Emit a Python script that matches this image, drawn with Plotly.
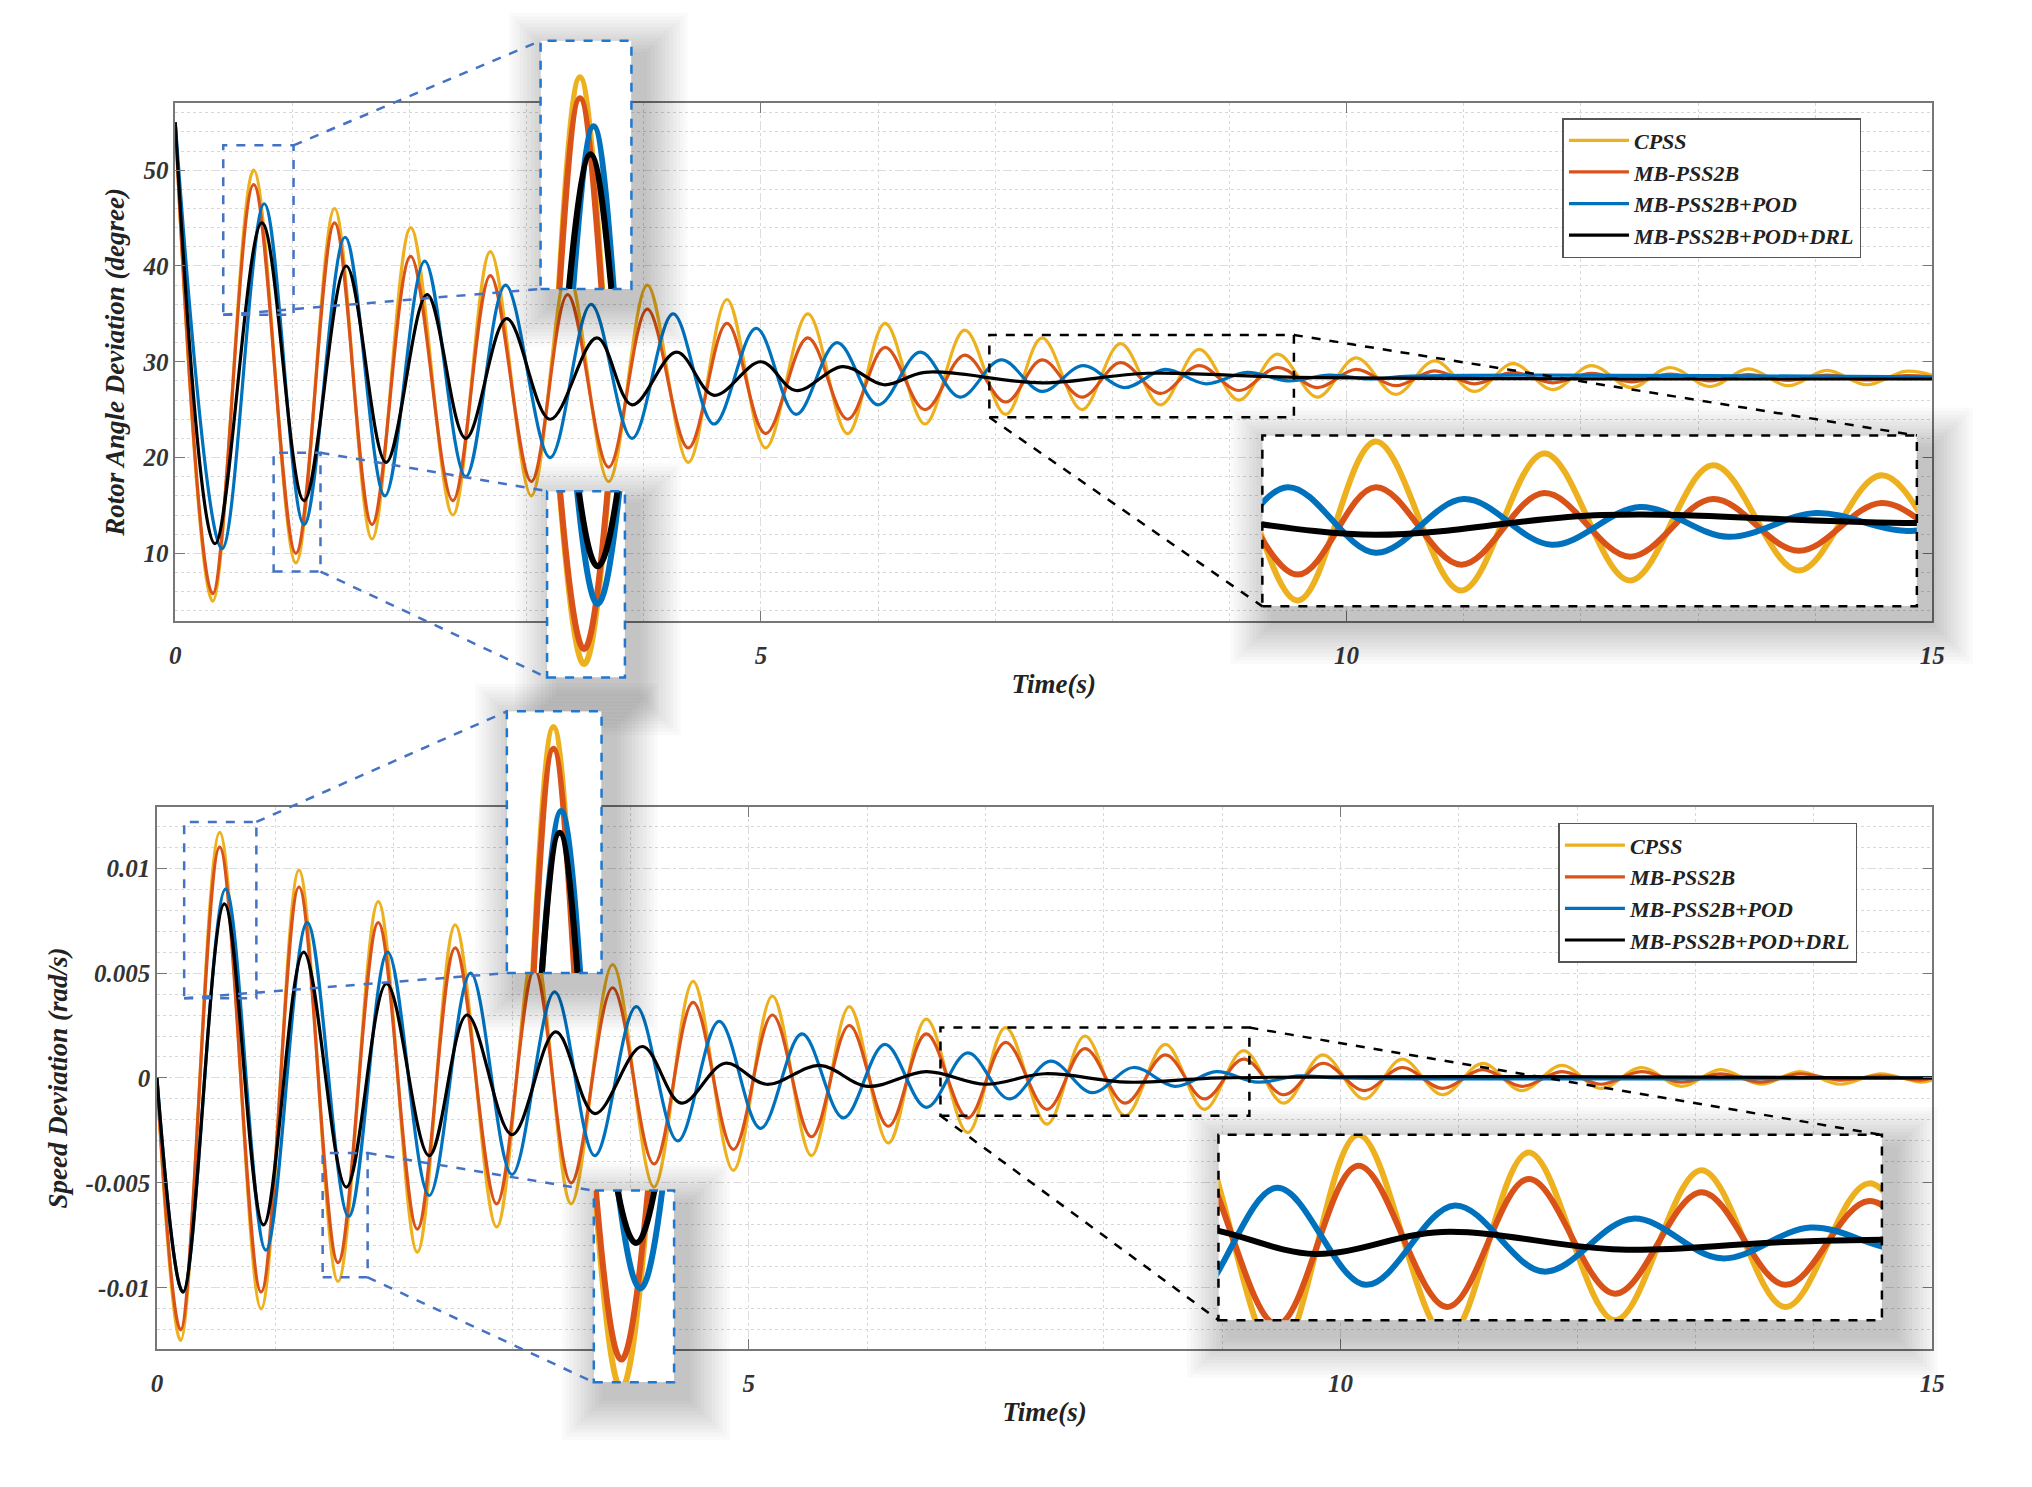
import plotly.graph_objects as go

# ---- rotor angle (top) : extrema ----
t_ang = [0, .32, .67, 1.03, 1.36, 1.68, 2.01, 2.37, 2.69, 3.04, 3.35, 3.70, 4.03, 4.38, 4.71, 5.04,
         5.40, 5.74, 6.06, 6.40, 6.74, 7.09, 7.40, 7.74, 8.07, 8.41, 8.74, 9.08, 9.41, 9.75, 10.08,
         10.42, 10.75, 11.09, 11.42, 11.76, 12.09, 12.43, 12.76, 13.10, 13.43, 13.77, 14.10, 14.44, 14.77, 15.0]
ang_cpss = [55, 5, 50, 9, 46, 11.5, 44, 14, 41.5, 16, 39.5, 17.5, 38, 19.5, 36.5, 21, 35, 22.5, 34, 23.5,
            33.3, 24.5, 32.5, 25.0, 31.9, 25.5, 31.3, 26.0, 30.8, 26.3, 30.4, 26.6, 30.1, 26.9, 29.8, 27.1,
            29.6, 27.3, 29.4, 27.4, 29.25, 27.5, 29.1, 27.6, 29.0, 28.6]
ang_mb = [55, 5.8, 48.5, 10, 44.5, 13, 41, 15.5, 39, 17.5, 37, 19, 35.5, 21, 34, 22.5, 32.5, 24, 31.5, 25,
          30.7, 25.8, 30.2, 26.3, 29.9, 26.7, 29.6, 27.0, 29.4, 27.3, 29.2, 27.5, 29.05, 27.7, 28.9, 27.8,
          28.8, 27.9, 28.7, 28.0, 28.65, 28.05, 28.6, 28.1, 28.55, 28.4]
t_ang_pod = [0, .40, .76, 1.10, 1.45, 1.79, 2.13, 2.48, 2.82, 3.20, 3.55, 3.90, 4.25, 4.60, 4.96, 5.30,
             5.65, 6.00, 6.36, 6.70, 7.05, 7.40, 7.75, 8.10, 8.45, 8.80, 9.15, 9.50, 9.85, 10.2, 10.55, 15.0]
ang_pod = [55, 10.5, 46.5, 13, 43, 16, 40.5, 18, 38, 20, 36, 22, 35, 23.5, 33.5, 24.5, 32, 25.5, 31, 26.3,
           30.2, 26.9, 29.6, 27.3, 29.2, 27.7, 28.9, 28.0, 28.6, 28.2, 28.5, 28.4]
t_ang_drl = [0, .34, .74, 1.10, 1.46, 1.80, 2.15, 2.48, 2.83, 3.20, 3.60, 3.90, 4.28, 4.60, 5.00, 5.30,
             5.70, 6.05, 6.40, 7.40, 8.30, 9.50, 15.0]
ang_drl = [55, 11, 44.5, 15.5, 40, 19.5, 37, 22, 34.5, 24, 32.5, 25.5, 31, 26.5, 30.0, 27.0, 29.5, 27.6,
           28.9, 27.8, 28.8, 28.4, 28.2]

# ---- speed deviation (bottom) ----
t_spd = [0, .20, .53, .88, 1.20, 1.53, 1.87, 2.20, 2.52, 2.87, 3.19, 3.50, 3.85, 4.20, 4.53, 4.87, 5.20,
         5.53, 5.85, 6.18, 6.50, 6.85, 7.17, 7.52, 7.84, 8.18, 8.52, 8.85, 9.18, 9.52, 9.85, 10.20, 10.52,
         10.86, 11.20, 11.53, 11.87, 12.20, 12.54, 12.88, 13.21, 13.55, 13.88, 14.22, 14.56, 14.90, 15.0]
spd_cpss = [0, -.0125, .0117, -.011, .0099, -.0097, .0084, -.0083, .0073, -.0071, .0062, -.006, .0054, -.0052,
            .0046, -.0044, .0039, -.0037, .0034, -.0031, .0028, -.0026, .0024, -.0022, .002, -.0018, .0016,
            -.0015, .0013, -.0012, .0011, -.001, .0009, -.0008, .0007, -.0006, .0006, -.0005, .0005, -.0004,
            .0004, -.0003, .0003, -.0003, .0002, -.0002, -.0001]
spd_mb = [0, -.012, .011, -.0102, .0091, -.0088, .0074, -.0072, .0062, -.006, .0052, -.005, .0043, -.0041,
          .0036, -.0034, .003, -.0028, .0025, -.0023, .0021, -.0019, .0017, -.0015, .0014, -.0012, .0011,
          -.001, .0009, -.0008, .0007, -.0006, .0005, -.0005, .0004, -.0004, .0003, -.0003, .0003, -.0002,
          .0002, -.0002, .0002, -.0001, .0001, -.0001, 0]
t_spd_pod = [0, .22, .58, .92, 1.27, 1.62, 1.95, 2.30, 2.65, 3.00, 3.36, 3.70, 4.05, 4.40, 4.75, 5.10, 5.45,
             5.80, 6.15, 6.50, 6.85, 7.20, 7.55, 7.90, 8.25, 8.60, 8.95, 9.30, 9.65, 10.0, 15.0]
spd_pod = [0, -.0102, .009, -.0082, .0074, -.0066, .006, -.0056, .005, -.0046, .0041, -.0037, .0034, -.003,
           .0027, -.0024, .0021, -.0019, .0016, -.0014, .0012, -.001, .0008, -.0007, .0005, -.0004, .0003,
           -.0002, .0001, 0, 0]
t_spd_drl = [0, .22, .57, .90, 1.24, 1.60, 1.94, 2.30, 2.62, 3.00, 3.37, 3.70, 4.10, 4.43, 4.80, 5.15, 5.60,
             6.00, 6.50, 7.00, 7.50, 8.20, 9.00, 15.0]
spd_drl = [0, -.0102, .0083, -.007, .006, -.0052, .0045, -.0037, .003, -.0027, .0022, -.0017, .0015, -.0012,
           .0007, -.0003, .0006, -.0004, .0003, -.0003, .0002, -.0002, 0, 0]

names = ["CPSS", "MB-PSS2B", "MB-PSS2B+POD", "MB-PSS2B+POD+DRL"]
colors = ["#EDB120", "#D95319", "#0072BD", "#000000"]

FONT = "Liberation Serif"
fig = go.Figure()

main = {
    "top": dict(x="x", y="y", xd=[0.0823, 0.947], yd=[0.588, 0.936], yr=[2.97, 57.0]),
    "bot": dict(x="x2", y="y2", xd=[0.0733, 0.947], yd=[0.0984, 0.4625], yr=[-0.0129, 0.0129]),
}
insets = [
    dict(p="top", xd=[0.2621, 0.3068], yd=[0.811, 0.978], xr=[0.41, 1.01], yr=[34.9, 52.6],
         col="#1F77D0", lc="#4472C4", links=[((1, 1), (0, 1)), ((0, 0), (0, 0))]),
    dict(p="top", xd=[0.2653, 0.3036], yd=[0.5497, 0.6751], xr=[0.84, 1.24], yr=[8.1, 20.5],
         col="#1F77D0", lc="#4472C4", links=[((1, 1), (0, 1)), ((1, 0), (0, 0))]),
    dict(p="top", xd=[0.6173, 0.9394], yd=[0.5976, 0.7125], xr=[6.95, 9.55], yr=[24.2, 32.8],
         col="black", lc="black", links=[((1, 1), (1, 1)), ((0, 0), (0, 0))]),
    dict(p="bot", xd=[0.2455, 0.2921], yd=[0.351, 0.527], xr=[0.23, 0.84], yr=[0.0038, 0.0122],
         col="#1F77D0", lc="#4472C4", links=[((1, 1), (0, 1)), ((0, 0), (0, 0))]),
    dict(p="bot", xd=[0.2883, 0.3278], yd=[0.0758, 0.2047], xr=[1.40, 1.78], yr=[-0.0095, -0.00358],
         col="#1F77D0", lc="#4472C4", links=[((1, 1), (0, 1)), ((1, 0), (0, 0))]),
    dict(p="bot", xd=[0.5957, 0.9222], yd=[0.1176, 0.2422], xr=[6.62, 9.23], yr=[-0.0018, 0.0024],
         col="black", lc="black", links=[((1, 1), (1, 1)), ((0, 0), (0, 0))]),
]
ns = len(insets)
for i, ins in enumerate(insets):
    ins["s"] = 3 + i          # shadow axis id
    ins["n"] = 3 + ns + i     # inset axis id

series = {
    "top": [(t_ang, ang_cpss), (t_ang, ang_mb), (t_ang_pod, ang_pod), (t_ang_drl, ang_drl)],
    "bot": [(t_spd, spd_cpss), (t_spd, spd_mb), (t_spd_pod, spd_pod), (t_spd_drl, spd_drl)],
}

for key, leg in (("top", "legend"), ("bot", "legend2")):
    m = main[key]
    for (t, v), nm, c in zip(series[key], names, colors):
        fig.add_trace(go.Scatter(x=t, y=v, name=nm, mode="lines", line=dict(color=c, width=3.2, shape="spline"),
                                 xaxis=m["x"], yaxis=m["y"], legend=leg))

# soft drop shadows, drawn in paper-coordinate overlay axes
PAD = 0.03
shadow_dom = {}
for ins in insets:
    xa, ya = f"x{ins['s']}", f"y{ins['s']}"
    sx = [max(0, ins["xd"][0] - PAD), min(1, ins["xd"][1] + PAD)]
    sy = [max(0, ins["yd"][0] - PAD * 1.4), min(1, ins["yd"][1] + PAD)]
    shadow_dom[ins["s"]] = (sx, sy)
    dx, dy = 0.006, -0.01
    for k in range(12):
        gx, gy = 0.0018 * (12 - k), 0.0024 * (12 - k)
        x0, x1 = ins["xd"][0] + dx - gx, ins["xd"][1] + dx + gx
        y0, y1 = ins["yd"][0] + dy - gy, ins["yd"][1] + dy + gy
        fig.add_trace(go.Scatter(x=[x0, x1, x1, x0, x0], y=[y0, y0, y1, y1, y0], fill="toself",
                                 fillcolor="rgba(0,0,0,0.018)", mode="none", showlegend=False,
                                 hoverinfo="skip", xaxis=xa, yaxis=ya))

for ins in insets:
    xa, ya = f"x{ins['n']}", f"y{ins['n']}"
    x0, x1 = ins["xr"]
    y0, y1 = ins["yr"]
    fig.add_trace(go.Scatter(x=[x0, x1, x1, x0, x0], y=[y0, y0, y1, y1, y0], fill="toself", fillcolor="white",
                             mode="none", showlegend=False, hoverinfo="skip", xaxis=xa, yaxis=ya))
    for (t, v), c in zip(series[ins["p"]], colors):
        fig.add_trace(go.Scatter(x=t, y=v, mode="lines", showlegend=False, line=dict(color=c, width=6, shape="spline"),
                                 xaxis=xa, yaxis=ya))


def to_paper(m, xv, yv):
    px = m["xd"][0] + xv / 15 * (m["xd"][1] - m["xd"][0])
    py = m["yd"][0] + (yv - m["yr"][0]) / (m["yr"][1] - m["yr"][0]) * (m["yd"][1] - m["yd"][0])
    return px, py


shapes = []
for ins in insets:
    m = main[ins["p"]]
    shapes.append(dict(type="rect", xref=m["x"], yref=m["y"], x0=ins["xr"][0], x1=ins["xr"][1],
                       y0=ins["yr"][0], y1=ins["yr"][1], line=dict(color=ins["lc"], width=2.5, dash="dash")))
    shapes.append(dict(type="rect", xref="paper", yref="paper", x0=ins["xd"][0], x1=ins["xd"][1],
                       y0=ins["yd"][0], y1=ins["yd"][1], line=dict(color=ins["col"], width=2.5, dash="dash")))
    for (sx, sy), (ix, iy) in ins["links"]:
        px, py = to_paper(m, ins["xr"][sx], ins["yr"][sy])
        shapes.append(dict(type="line", xref="paper", yref="paper", x0=px, y0=py,
                           x1=ins["xd"][ix], y1=ins["yd"][iy], line=dict(color=ins["lc"], width=2.5, dash="dash")))

tick_font = dict(family=FONT, size=25, color="#333333", style="italic", weight="bold")
title_font = dict(family=FONT, size=27, color="#222222", style="italic", weight="bold")
leg_font = dict(family=FONT, size=22, color="#222222", style="italic", weight="bold")


def main_x(dom, anchor):
    return dict(domain=dom, anchor=anchor, range=[0, 15], tickvals=[0, 5, 10, 15], showline=True, mirror="ticks",
                linecolor="#777777", linewidth=1.5, ticks="inside", ticklen=10, tickcolor="#777777",
                tickfont=tick_font, ticklabelstandoff=12, showgrid=True, gridcolor="#dddddd", griddash="dash",
                minor=dict(dtick=1, showgrid=True, gridcolor="#d8d8d8", griddash="dot"),
                zeroline=False, automargin=False,
                title=dict(text="Time(s)", font=title_font, standoff=6))


def main_y(dom, anchor, rng, title):
    return dict(domain=dom, anchor=anchor, range=rng, showline=True, mirror="ticks",
                linecolor="#777777", linewidth=1.5, ticks="inside", ticklen=10, tickcolor="#777777",
                tickfont=tick_font, showgrid=True, gridcolor="#dddddd", griddash="dash",
                zeroline=False, automargin=False, title=dict(text=title, font=title_font, standoff=10))


layout = dict(
    width=2032, height=1487, margin=dict(l=0, r=0, t=0, b=0),
    paper_bgcolor="white", plot_bgcolor="rgba(0,0,0,0)", shapes=shapes,
    xaxis=main_x(main["top"]["xd"], "y"),
    yaxis=main_y(main["top"]["yd"], "x", main["top"]["yr"], "Rotor Angle Deviation (degree)"),
    xaxis2=main_x(main["bot"]["xd"], "y2"),
    yaxis2=main_y(main["bot"]["yd"], "x2", main["bot"]["yr"], "Speed Deviation (rad/s)"),
    legend=dict(x=0.765, y=0.926, xanchor="left", yanchor="top", bgcolor="white", bordercolor="#555555",
                borderwidth=1.5, font=leg_font, tracegroupgap=0, itemwidth=60),
    legend2=dict(x=0.763, y=0.452, xanchor="left", yanchor="top", bgcolor="white", bordercolor="#555555",
                 borderwidth=1.5, font=leg_font, tracegroupgap=0, itemwidth=60),
    showlegend=True,
)
layout["yaxis"].update(tickvals=[10, 20, 30, 40, 50],
                       minor=dict(dtick=2, showgrid=True, gridcolor="#d8d8d8", griddash="dot"))
layout["yaxis2"].update(tickvals=[-0.01, -0.005, 0, 0.005, 0.01],
                        ticktext=["-0.01", "-0.005", "0", "0.005", "0.01"],
                        minor=dict(dtick=0.001, showgrid=True, gridcolor="#d8d8d8", griddash="dot"))

for ins in insets:
    s, n = ins["s"], ins["n"]
    sx, sy = shadow_dom[s]
    layout[f"xaxis{s}"] = dict(domain=sx, anchor=f"y{s}", range=sx, visible=False, automargin=False)
    layout[f"yaxis{s}"] = dict(domain=sy, anchor=f"x{s}", range=sy, visible=False, automargin=False)
    layout[f"xaxis{n}"] = dict(domain=ins["xd"], anchor=f"y{n}", range=ins["xr"], showticklabels=False,
                               ticks="", showgrid=False, zeroline=False, automargin=False)
    layout[f"yaxis{n}"] = dict(domain=ins["yd"], anchor=f"x{n}", range=ins["yr"], showticklabels=False,
                               ticks="", showgrid=False, zeroline=False, automargin=False)

fig.update_layout(**layout)
fig.write_html("out.html")
